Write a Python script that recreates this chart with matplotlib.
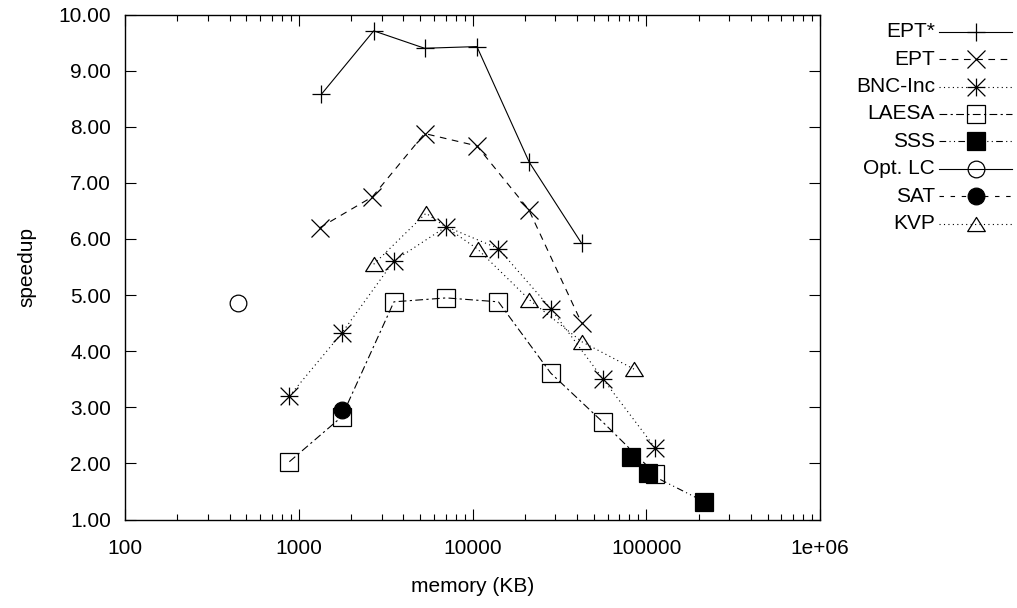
import numpy as np
import matplotlib
matplotlib.use('Agg')
import matplotlib.pyplot as plt
from matplotlib.path import Path
from matplotlib.lines import Line2D
from matplotlib.ticker import FixedLocator, FuncFormatter, LogLocator, NullFormatter

plt.rcParams['font.family'] = ['Liberation Sans', 'DejaVu Sans']

# memory (KB) / speedup per method
ept_star_mem = [1350, 2700, 5300, 10600, 21200, 42500]
ept_star_speed = [8.58, 9.71, 9.40, 9.43, 7.37, 5.92]

ept_mem = [1320, 2650, 5300, 10600, 21100, 42500]
ept_speed = [6.20, 6.75, 7.88, 7.66, 6.52, 4.50]

bnc_mem = [883, 1766, 3530, 7060, 14100, 28200, 56500, 113000]
bnc_speed = [3.20, 4.32, 5.61, 6.22, 5.83, 4.76, 3.50, 2.27]

laesa_mem = [883, 1766, 3530, 7060, 14100, 28200, 56500, 113000]
laesa_speed = [2.03, 2.83, 4.88, 4.95, 4.88, 3.61, 2.73, 1.81]

sss_mem = [81300, 102800, 214800]
sss_speed = [2.12, 1.82, 1.32]

optlc_mem = [449]
optlc_speed = [4.86]

sat_mem = [1766]
sat_speed = [2.95]

kvp_mem = [2700, 5400, 10700, 21200, 42500, 85100]
kvp_speed = [5.55, 6.46, 5.82, 4.92, 4.17, 3.68]

labels = ['EPT*', 'EPT', 'BNC-Inc', 'LAESA', 'SSS', 'Opt. LC', 'SAT', 'KVP']

x_ticks = [100, 1000, 10000, 100000, 1000000]
x_ticklabels = ['100', '1000', '10000', '100000', '1e+06']
y_ticks = [1, 2, 3, 4, 5, 6, 7, 8, 9, 10]

# gnuplot style markers
star = Path([(-1, 0), (1, 0), (0, -1), (0, 1), (-1, -1), (1, 1), (-1, 1), (1, -1)],
            [Path.MOVETO, Path.LINETO] * 4)
tri = Path([(0, 0.8), (-1, -0.8), (1, -0.8), (0, 0.8)],
           [Path.MOVETO, Path.LINETO, Path.LINETO, Path.CLOSEPOLY])

lw = 0.8
mew = 0.9
styles = [
    dict(ls='-', marker='+', ms=12.8),
    dict(dashes=(6, 5), marker='x', ms=12.8),
    dict(dashes=(1, 3), marker=star, ms=12.8, mfc='none'),
    dict(dashes=(7, 3, 2, 3), marker='s', ms=12.5, mfc='none'),
    dict(dashes=(6, 3, 1, 3, 1, 3), marker='s', ms=12.5, mfc='k'),
    dict(ls='-', marker='o', ms=12, mfc='none'),
    dict(dashes=(4, 6), marker='o', ms=12, mfc='k'),
    dict(dashes=(1, 3), marker=tri, ms=12.7, mfc='none'),
]
series = [(ept_star_mem, ept_star_speed), (ept_mem, ept_speed), (bnc_mem, bnc_speed),
          (laesa_mem, laesa_speed), (sss_mem, sss_speed), (optlc_mem, optlc_speed),
          (sat_mem, sat_speed), (kvp_mem, kvp_speed)]

fig = plt.figure(figsize=(10.17, 6.08), dpi=100)
ax = fig.add_axes([125 / 1017, 1 - 519.5 / 608, 695 / 1017, (519.5 - 14.6) / 608])

for (mem, speed), lab, st in zip(series, labels, styles):
    ax.plot(mem, speed, color='k', lw=lw, mew=mew, label=lab, **st)

ax.set_xscale('log')
ax.set_xlim(100, 1000000)
ax.set_ylim(1, 10)
ax.xaxis.set_major_locator(FixedLocator(x_ticks))
ax.xaxis.set_major_formatter(FuncFormatter(lambda v, p: x_ticklabels[x_ticks.index(int(round(v)))]
                                           if int(round(v)) in x_ticks else ''))
ax.xaxis.set_minor_locator(LogLocator(base=10, subs=np.arange(2, 10)))
ax.xaxis.set_minor_formatter(NullFormatter())
ax.yaxis.set_major_locator(FixedLocator(y_ticks))
ax.yaxis.set_major_formatter(FuncFormatter(lambda v, p: '%.2f' % v))

ax.tick_params(which='both', direction='in', top=True, right=True, width=0.8, colors='k',
               labelsize=15)
ax.tick_params(which='major', length=8)
ax.tick_params(which='minor', length=4)
ax.tick_params(axis='x', pad=14)
ax.tick_params(axis='y', pad=10)
for s in ax.spines.values():
    s.set_linewidth(1.0)

ax.set_xlabel('memory (KB)', fontsize=15, labelpad=14)
ax.set_ylabel('speedup', fontsize=15, labelpad=16)

# gnuplot-like key: right aligned text, sample line to the right
W, H = 1017, 608
for i, (lab, st) in enumerate(zip(labels, styles)):
    yk = 1 - (31.7 + 27.4 * i) / H
    fig.text(935 / W, yk, lab, ha='right', va='center', fontsize=15)
    key = Line2D([939 / W, 975.5 / W, 1012 / W], [yk, yk, yk], transform=fig.transFigure,
                 color='k', lw=lw, mew=mew, markevery=[1], **st)
    fig.add_artist(key)

plt.savefig('out.png', dpi=100)
